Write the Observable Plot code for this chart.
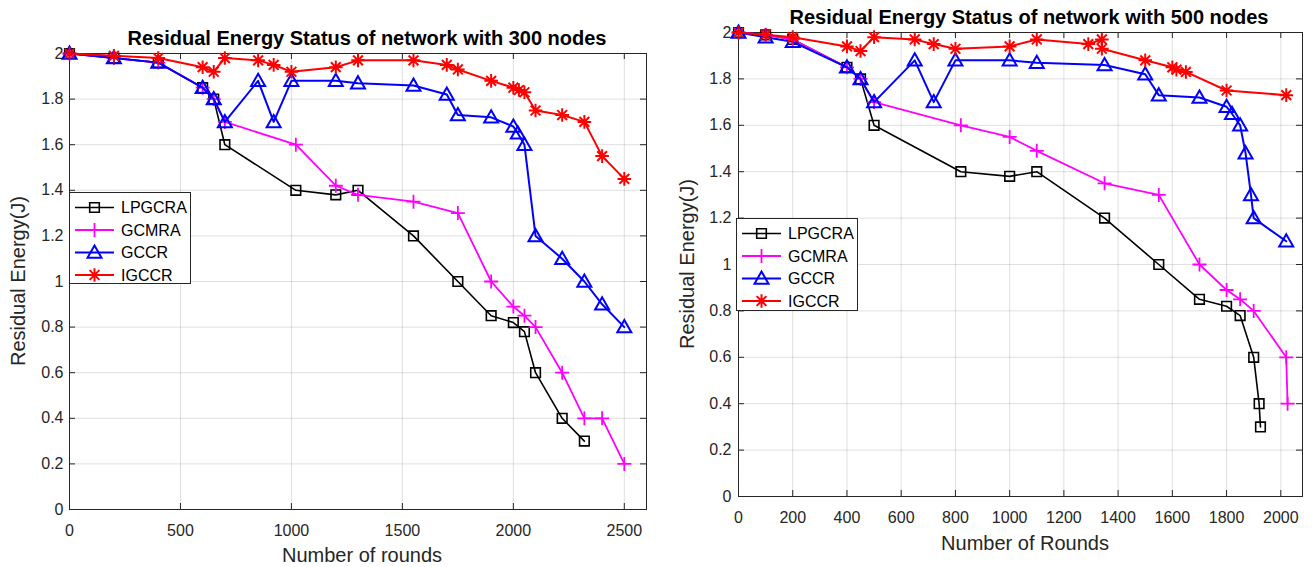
<!DOCTYPE html>
<html><head><meta charset="utf-8">
<script src="https://cdn.jsdelivr.net/npm/d3@7"></script>
<script src="https://cdn.jsdelivr.net/npm/@observablehq/plot@0.6"></script>
<style>
body{margin:0;background:#fff;}
#root{position:relative;width:1312px;height:567px;overflow:hidden;font-family:"Liberation Sans",Arial,sans-serif;color:#262626;background:#fff;}
.t{position:absolute;white-space:nowrap;transform:translate(-50%,-50%);line-height:1;}
.title{font-weight:bold;font-size:20px;color:#000;}
.lab{font-size:20px;color:#262626;}
.ylab{transform:translate(-50%,-50%) rotate(-90deg);}
.panel{position:absolute;top:0;}
.panel svg{overflow:visible;}
</style></head><body><div id="root"></div>
<script>
// ---------- Data: 300 nodes ----------
const x300_LPGCRA = [0,200,400,600,650,700,1020,1200,1300,1550,1750,1900,2000,2050,2100,2220,2320];
const y300_LPGCRA = [2.0,1.98,1.96,1.85,1.80,1.60,1.40,1.38,1.40,1.20,1.00,0.85,0.82,0.78,0.60,0.40,0.30];
const x300_GCMRA = [0,200,400,600,650,700,1020,1200,1300,1550,1750,1900,2000,2050,2100,2220,2320,2400,2500];
const y300_GCMRA = [2.0,1.98,1.96,1.85,1.80,1.70,1.60,1.42,1.38,1.35,1.30,1.00,0.89,0.85,0.80,0.60,0.40,0.40,0.20];
const x300_GCCR = [0,200,400,600,650,700,850,920,1000,1200,1300,1550,1700,1750,1900,2000,2020,2050,2100,2220,2320,2400,2500];
const y300_GCCR = [2.0,1.98,1.96,1.85,1.80,1.70,1.88,1.70,1.88,1.88,1.87,1.86,1.82,1.73,1.72,1.68,1.65,1.60,1.20,1.10,1.00,0.90,0.80];
const x300_IGCCR = [0,200,400,600,650,700,850,920,1000,1200,1300,1550,1700,1750,1900,2000,2025,2050,2100,2220,2320,2400,2500];
const y300_IGCCR = [2.0,1.99,1.98,1.94,1.92,1.98,1.97,1.95,1.92,1.94,1.97,1.97,1.95,1.93,1.88,1.85,1.84,1.83,1.75,1.73,1.70,1.55,1.45];

// ---------- Data: 500 nodes ----------
const x500_LPGCRA = [0,100,200,400,450,500,820,1000,1100,1350,1550,1700,1800,1850,1900,1920,1925];
const y500_LPGCRA = [2.0,1.99,1.97,1.85,1.80,1.60,1.40,1.38,1.40,1.20,1.00,0.85,0.82,0.78,0.60,0.40,0.30];
const x500_GCMRA = [0,100,200,400,450,500,820,1000,1100,1350,1550,1700,1800,1850,1900,2020,2025];
const y500_GCMRA = [2.0,1.99,1.97,1.85,1.80,1.70,1.60,1.55,1.49,1.35,1.30,1.00,0.89,0.85,0.80,0.60,0.40];
const x500_GCCR = [0,100,200,400,450,500,650,720,800,1000,1100,1350,1500,1550,1700,1800,1820,1850,1870,1890,1900,2020];
const y500_GCCR = [2.0,1.98,1.96,1.85,1.80,1.70,1.88,1.70,1.88,1.88,1.87,1.86,1.82,1.73,1.72,1.68,1.65,1.60,1.48,1.30,1.20,1.10];
const x500_IGCCR = [0,100,200,400,450,500,650,720,800,1000,1100,1290,1340,1340,1500,1600,1615,1650,1800,2020];
const y500_IGCCR = [2.0,1.99,1.98,1.94,1.92,1.98,1.97,1.95,1.93,1.94,1.97,1.95,1.97,1.93,1.88,1.85,1.84,1.83,1.75,1.73];

// ---------- Ticks & labels ----------
const yTicks = [0,0.2,0.4,0.6,0.8,1,1.2,1.4,1.6,1.8,2];
const xTicks300 = [0,500,1000,1500,2000,2500];
const xTicks500 = [0,200,400,600,800,1000,1200,1400,1600,1800,2000];
const seriesNames = ["LPGCRA","GCMRA","GCCR","IGCCR"];
const title300 = "Residual Energy Status of network with 300 nodes";
const title500 = "Residual Energy Status of network with 500 nodes";
const xLabel300 = "Number of rounds";
const xLabel500 = "Number of Rounds";
const yLabel = "Residual Energy(J)";

// ---------- MATLAB-like marker symbols ----------
const symSquare = {draw(c, s){const r=Math.sqrt(s/Math.PI); c.moveTo(-r,-r); c.lineTo(r,-r); c.lineTo(r,r); c.lineTo(-r,r); c.closePath();}};
const symPlus = {draw(c, s){const r=Math.sqrt(s/Math.PI); c.moveTo(-r,0); c.lineTo(r,0); c.moveTo(0,-r); c.lineTo(0,r);}};
const symTri = {draw(c, s){const r=Math.sqrt(s/Math.PI); c.moveTo(0,-r*1.0); c.lineTo(r,r*0.75); c.lineTo(-r,r*0.75); c.closePath();}};
const symStar = {draw(c, s){const r=Math.sqrt(s/Math.PI), d=r*0.72; c.moveTo(-r,0); c.lineTo(r,0); c.moveTo(0,-r); c.lineTo(0,r); c.moveTo(-d,-d); c.lineTo(d,d); c.moveTo(-d,d); c.lineTo(d,-d);}};

const styles = [
  {color:"#000000", sym:symSquare, r:4.8, lw:1.6},
  {color:"#ff00ff", sym:symPlus,   r:7,   lw:1.8},
  {color:"#0000ff", sym:symTri,    r:7,   lw:2},
  {color:"#ff0000", sym:symStar,   r:6.8, lw:2}
];

function buildSeries(xs, ys) {
  return xs.map((x, k) => ({name: seriesNames[k], ...styles[k], data: x.map((v, i) => ({x: v, y: ys[k][i]}))}));
}

const root = document.getElementById("root");

function panel(cfg) {
  const {left, width, height, ml, mr, mt, mb, xmax, xticks, series, ypad, xpad} = cfg;
  const pw = width - ml - mr, ph = height - mt - mb;
  const axisColor = "#262626";
  const marks = [
    Plot.gridX(xticks, {stroke: axisColor, strokeOpacity: 0.15, strokeWidth: 1}),
    Plot.gridY(yTicks, {stroke: axisColor, strokeOpacity: 0.15, strokeWidth: 1}),
    Plot.axisX(xticks, {tickSize: 0, tickPadding: xpad, tickFormat: d => String(d), label: null, fontSize: 16, fill: axisColor}),
    Plot.axisY(yTicks, {tickSize: 0, tickPadding: ypad, tickFormat: d => String(d), label: null, fontSize: 16, fill: axisColor}),
    Plot.tickX(xticks, {x: d => d, insetTop: ph - 6, stroke: axisColor}),
    Plot.tickX(xticks, {x: d => d, insetBottom: ph - 6, stroke: axisColor}),
    Plot.tickY(yTicks, {y: d => d, insetRight: pw - 6, stroke: axisColor}),
    Plot.tickY(yTicks, {y: d => d, insetLeft: pw - 6, stroke: axisColor}),
    Plot.frame({stroke: axisColor, strokeWidth: 1})
  ];
  series.forEach(s => {
    marks.push(Plot.line(s.data, {x: "x", y: "y", stroke: s.color, strokeWidth: s.lw}));
    marks.push(Plot.dot(s.data, {x: "x", y: "y", symbol: s.sym, r: s.r, stroke: s.color, fill: "none", strokeWidth: s.lw}));
  });
  const chart = Plot.plot({
    width, height, marginLeft: ml, marginRight: mr, marginTop: mt, marginBottom: mb,
    x: {domain: [0, xmax], label: null},
    y: {domain: [0, 2], label: null},
    style: {fontFamily: '"Liberation Sans", Arial, sans-serif', fontSize: "16px", background: "transparent", color: axisColor},
    marks
  });
  const div = document.createElement("div");
  div.className = "panel";
  div.style.left = left + "px";
  div.appendChild(chart);
  root.appendChild(div);
}

function text(cls, str, x, y) {
  const d = document.createElement("div");
  d.className = "t " + cls;
  d.textContent = str;
  d.style.left = x + "px";
  d.style.top = y + "px";
  root.appendChild(d);
}

function legend(series, x, y, w, h) {
  const svg = d3.select(root).append("svg")
    .attr("width", w).attr("height", h)
    .style("position", "absolute").style("left", x + "px").style("top", y + "px").style("overflow", "visible");
  svg.append("rect").attr("x", 0.5).attr("y", 0.5).attr("width", w - 1).attr("height", h - 1)
    .attr("fill", "#fff").attr("stroke", "#262626").attr("stroke-width", 1);
  series.forEach((s, i) => {
    const cy = 15.5 + i * 22.5;
    svg.append("line").attr("x1", 6).attr("x2", 45).attr("y1", cy).attr("y2", cy)
      .attr("stroke", s.color).attr("stroke-width", s.lw);
    svg.append("path").attr("d", d3.symbol(s.sym, Math.PI * s.r * s.r)())
      .attr("transform", `translate(25.5,${cy})`).attr("fill", "none").attr("stroke", s.color).attr("stroke-width", s.lw);
    svg.append("text").attr("x", 52).attr("y", cy).attr("dy", "0.35em")
      .attr("font-family", '"Liberation Sans", Arial, sans-serif').attr("font-size", 16).attr("fill", "#000").text(s.name);
  });
}

const s300 = buildSeries([x300_LPGCRA, x300_GCMRA, x300_GCCR, x300_IGCCR], [y300_LPGCRA, y300_GCMRA, y300_GCCR, y300_IGCCR]);
const s500 = buildSeries([x500_LPGCRA, x500_GCMRA, x500_GCCR, x500_IGCCR], [y500_LPGCRA, y500_GCMRA, y500_GCCR, y500_IGCCR]);

panel({left: 0, width: 656, height: 567, ml: 69, mr: 10, mt: 53, mb: 58, xmax: 2600, xticks: xTicks300, series: s300, ypad: 6, xpad: 15});
panel({left: 656, width: 656, height: 567, ml: 82, mr: 10, mt: 32, mb: 71, xmax: 2080, xticks: xTicks500, series: s500, ypad: 7, xpad: 15});

text("title", title300, 367, 38);
text("title", title500, 1029, 17);
text("lab", xLabel300, 362, 555);
text("lab", xLabel500, 1025, 543);
text("lab ylab", yLabel, 18, 281);
text("lab ylab", yLabel, 687, 264);

legend(s300, 69, 192, 122, 92);
legend(s500, 736, 218, 122, 93);
</script></body></html>
